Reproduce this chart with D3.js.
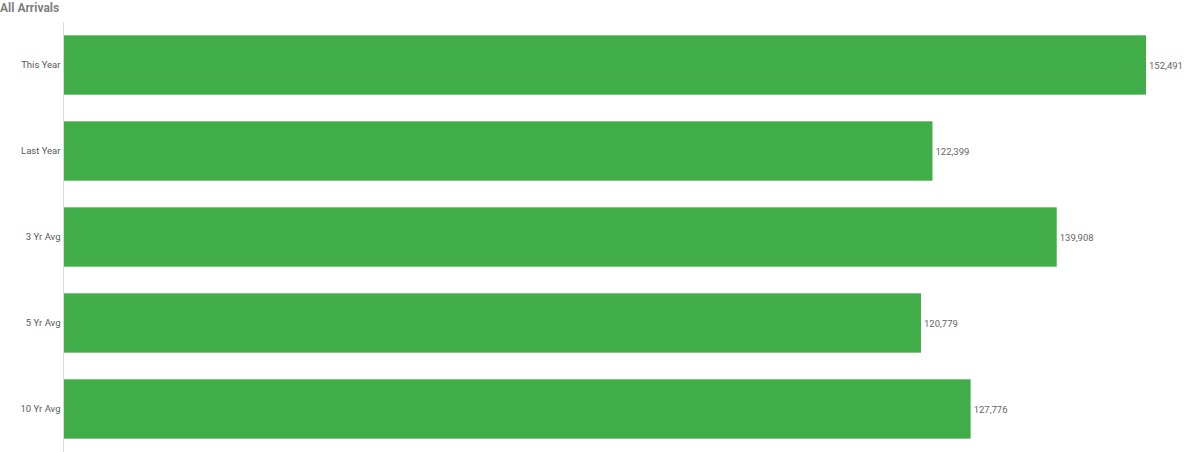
<!DOCTYPE html>
<html>
<head>
<meta charset="utf-8">
<script src="https://cdn.jsdelivr.net/npm/d3@7"></script>
<style>
  body { margin: 0; background: #fff; }
  svg { display: block; font-family: Roboto, "Noto Sans", sans-serif; }
</style>
</head>
<body>
<svg class="graph" width="1200" height="452"></svg>
<script>
// chart data
const categories = ['This Year', 'Last Year', '3 Yr Avg', '5 Yr Avg', '10 Yr Avg'];
const arrivals = [152491, 122399, 139908, 120779, 127776];

const W = 1200, H = 452;
const margin = { top: 22, right: 54, bottom: 0, left: 64 };

const svg = d3.select('svg.graph');

// title
svg.append('text')
    .attr('x', 0)
    .attr('y', 12)
    .attr('font-size', 12)
    .attr('font-weight', 700)
    .attr('fill', '#808080')
    .text('All Arrivals');

// scales
const x = d3.scaleLinear()
    .domain([0, d3.max(arrivals)])
    .range([margin.left, W - margin.right]);

const y = d3.scaleBand()
    .domain(categories)
    .range([margin.top, H - margin.bottom])
    .paddingInner(0.31)
    .paddingOuter(0.155);

const rows = categories.map((c, i) => ({ cat: c, value: arrivals[i] }));

// bars
svg.append('g').selectAll('rect')
    .data(rows)
    .join('rect')
    .attr('x', x(0))
    .attr('y', d => y(d.cat))
    .attr('width', d => x(d.value) - x(0))
    .attr('height', y.bandwidth())
    .attr('fill', '#41ad49');

// value labels
svg.append('g').selectAll('text')
    .data(rows)
    .join('text')
    .attr('x', d => x(d.value) + 3)
    .attr('y', d => y(d.cat) + y.bandwidth() / 2 + 1)
    .attr('dy', '0.35em')
    .attr('font-size', 9.5)
    .attr('fill', '#666')
    .text(d => d3.format(',')(d.value));

// category axis
const yAxis = svg.append('g')
    .attr('transform', `translate(${margin.left - 0.5},0)`)
    .call(d3.axisLeft(y).tickSize(0).tickPadding(3));

yAxis.select('.domain').attr('stroke', '#d9d9d9').attr('d', `M0,${margin.top}V${H}`);
yAxis.selectAll('text')
    .attr('font-size', 9.5)
    .attr('fill', '#595959')
    .attr('font-family', 'Roboto, "Noto Sans", sans-serif');
</script>
</body>
</html>
